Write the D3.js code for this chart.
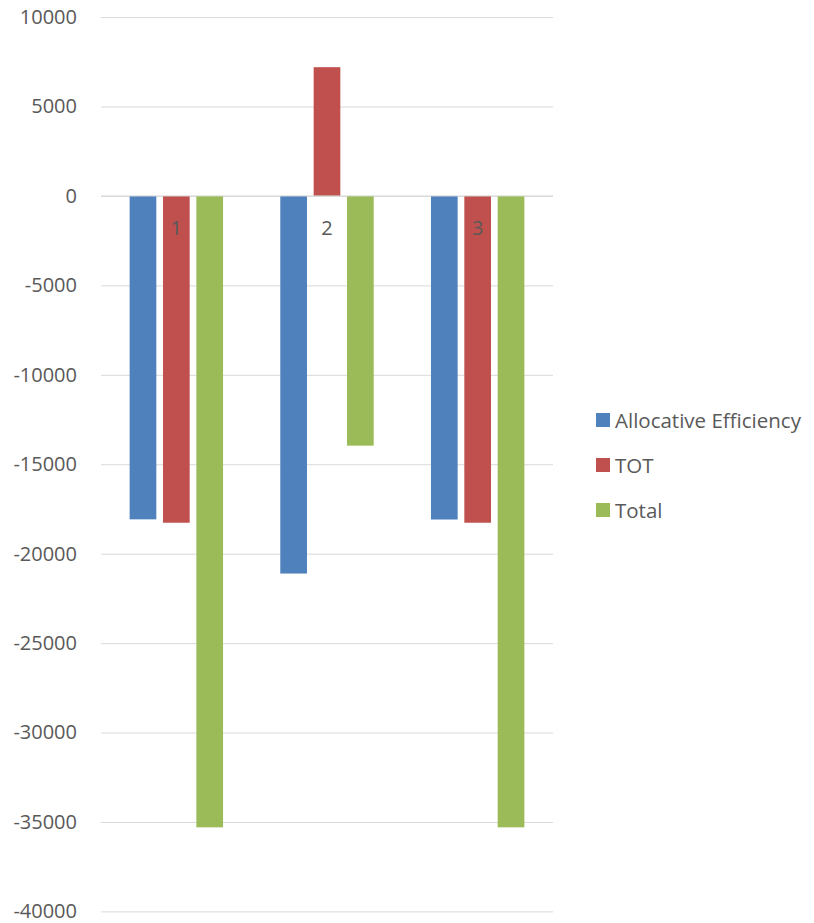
<!DOCTYPE html>
<html>
<head>
<meta charset="utf-8">
<script src="https://cdn.jsdelivr.net/npm/d3@7"></script>
<style>
  html, body { margin: 0; padding: 0; background: #fff; }
  svg text { font-family: "Open Sans", "Liberation Sans", sans-serif; fill: #595959; }
</style>
</head>
<body>
<svg id="chart" width="814" height="923"></svg>
<script>
// Categories, series and tick values for the clustered bar chart
const categories = ["1", "2", "3"];
const seriesNames = ["Allocative Efficiency", "TOT", "Total"];
const allocativeEfficiency = [-18080, -21110, -18090];
const tot = [-18270, 7200, -18270];
const total = [-35300, -13960, -35300];
const yTicks = [10000, 5000, 0, -5000, -10000, -15000, -20000, -25000, -30000, -35000, -40000];
const colors = ["#4F81BD", "#C0504D", "#9BBB59"];

const seriesValues = [allocativeEfficiency, tot, total];
const rows = categories.map((c, i) => ({
  category: c,
  values: seriesNames.map((s, j) => ({ series: s, value: seriesValues[j][i] }))
}));

const svg = d3.select("#chart");
const plot = { left: 101, right: 553, top: 17.1, bottom: 911.4 };

const y = d3.scaleLinear().domain([-40000, 10000]).range([plot.bottom, plot.top]);
const x0 = d3.scaleBand().domain(categories).range([plot.left, plot.right])
  .paddingInner(0.38).paddingOuter(0.19);
const x1 = d3.scaleBand().domain(seriesNames).range([0, x0.bandwidth()])
  .paddingInner(0.2).paddingOuter(0);
const color = d3.scaleOrdinal().domain(seriesNames).range(colors);

// Horizontal gridlines with plain hyphen-minus labels
const yAxis = d3.axisLeft(y).tickValues(yTicks).tickSize(-(plot.right - plot.left))
  .tickFormat(d => String(d)).tickPadding(24);
const gY = svg.append("g").attr("transform", `translate(${plot.left},0)`).call(yAxis);
gY.select(".domain").remove();
gY.selectAll(".tick line").attr("stroke", "#D9D9D9").attr("stroke-width", 1);
gY.selectAll(".tick text").attr("font-size", 20).attr("fill", "#595959")
  .style("font-family", "'Open Sans', sans-serif");

// Bars
const groups = svg.append("g").selectAll("g").data(rows).join("g")
  .attr("transform", d => `translate(${x0(d.category)},0)`);
groups.selectAll("rect").data(d => d.values).join("rect")
  .attr("x", d => x1(d.series))
  .attr("width", x1.bandwidth())
  .attr("y", d => y(Math.max(0, d.value)))
  .attr("height", d => Math.abs(y(d.value) - y(0)))
  .attr("fill", d => color(d.series));

// Zero line drawn above bars
svg.append("line")
  .attr("x1", plot.left).attr("x2", plot.right)
  .attr("y1", y(0)).attr("y2", y(0))
  .attr("stroke", "#D9D9D9").attr("stroke-width", 1);

// Category labels sit next to the zero axis
const xAxis = d3.axisBottom(x0).tickSize(0).tickPadding(25);
const gX = svg.append("g").attr("transform", `translate(0,${y(0)})`).call(xAxis);
gX.select(".domain").remove();
gX.selectAll(".tick text").attr("font-size", 20).attr("fill", "#595959")
  .style("font-family", "'Open Sans', sans-serif");

// Legend
const legend = svg.append("g").attr("transform", "translate(596,413)");
const li = legend.selectAll("g").data(seriesNames).join("g")
  .attr("transform", (d, i) => `translate(0,${i * 45})`);
li.append("rect").attr("width", 14).attr("height", 14).attr("fill", d => color(d));
li.append("text").attr("x", 19).attr("y", 14.5).attr("font-size", 20.5).text(d => d);
</script>
</body>
</html>
